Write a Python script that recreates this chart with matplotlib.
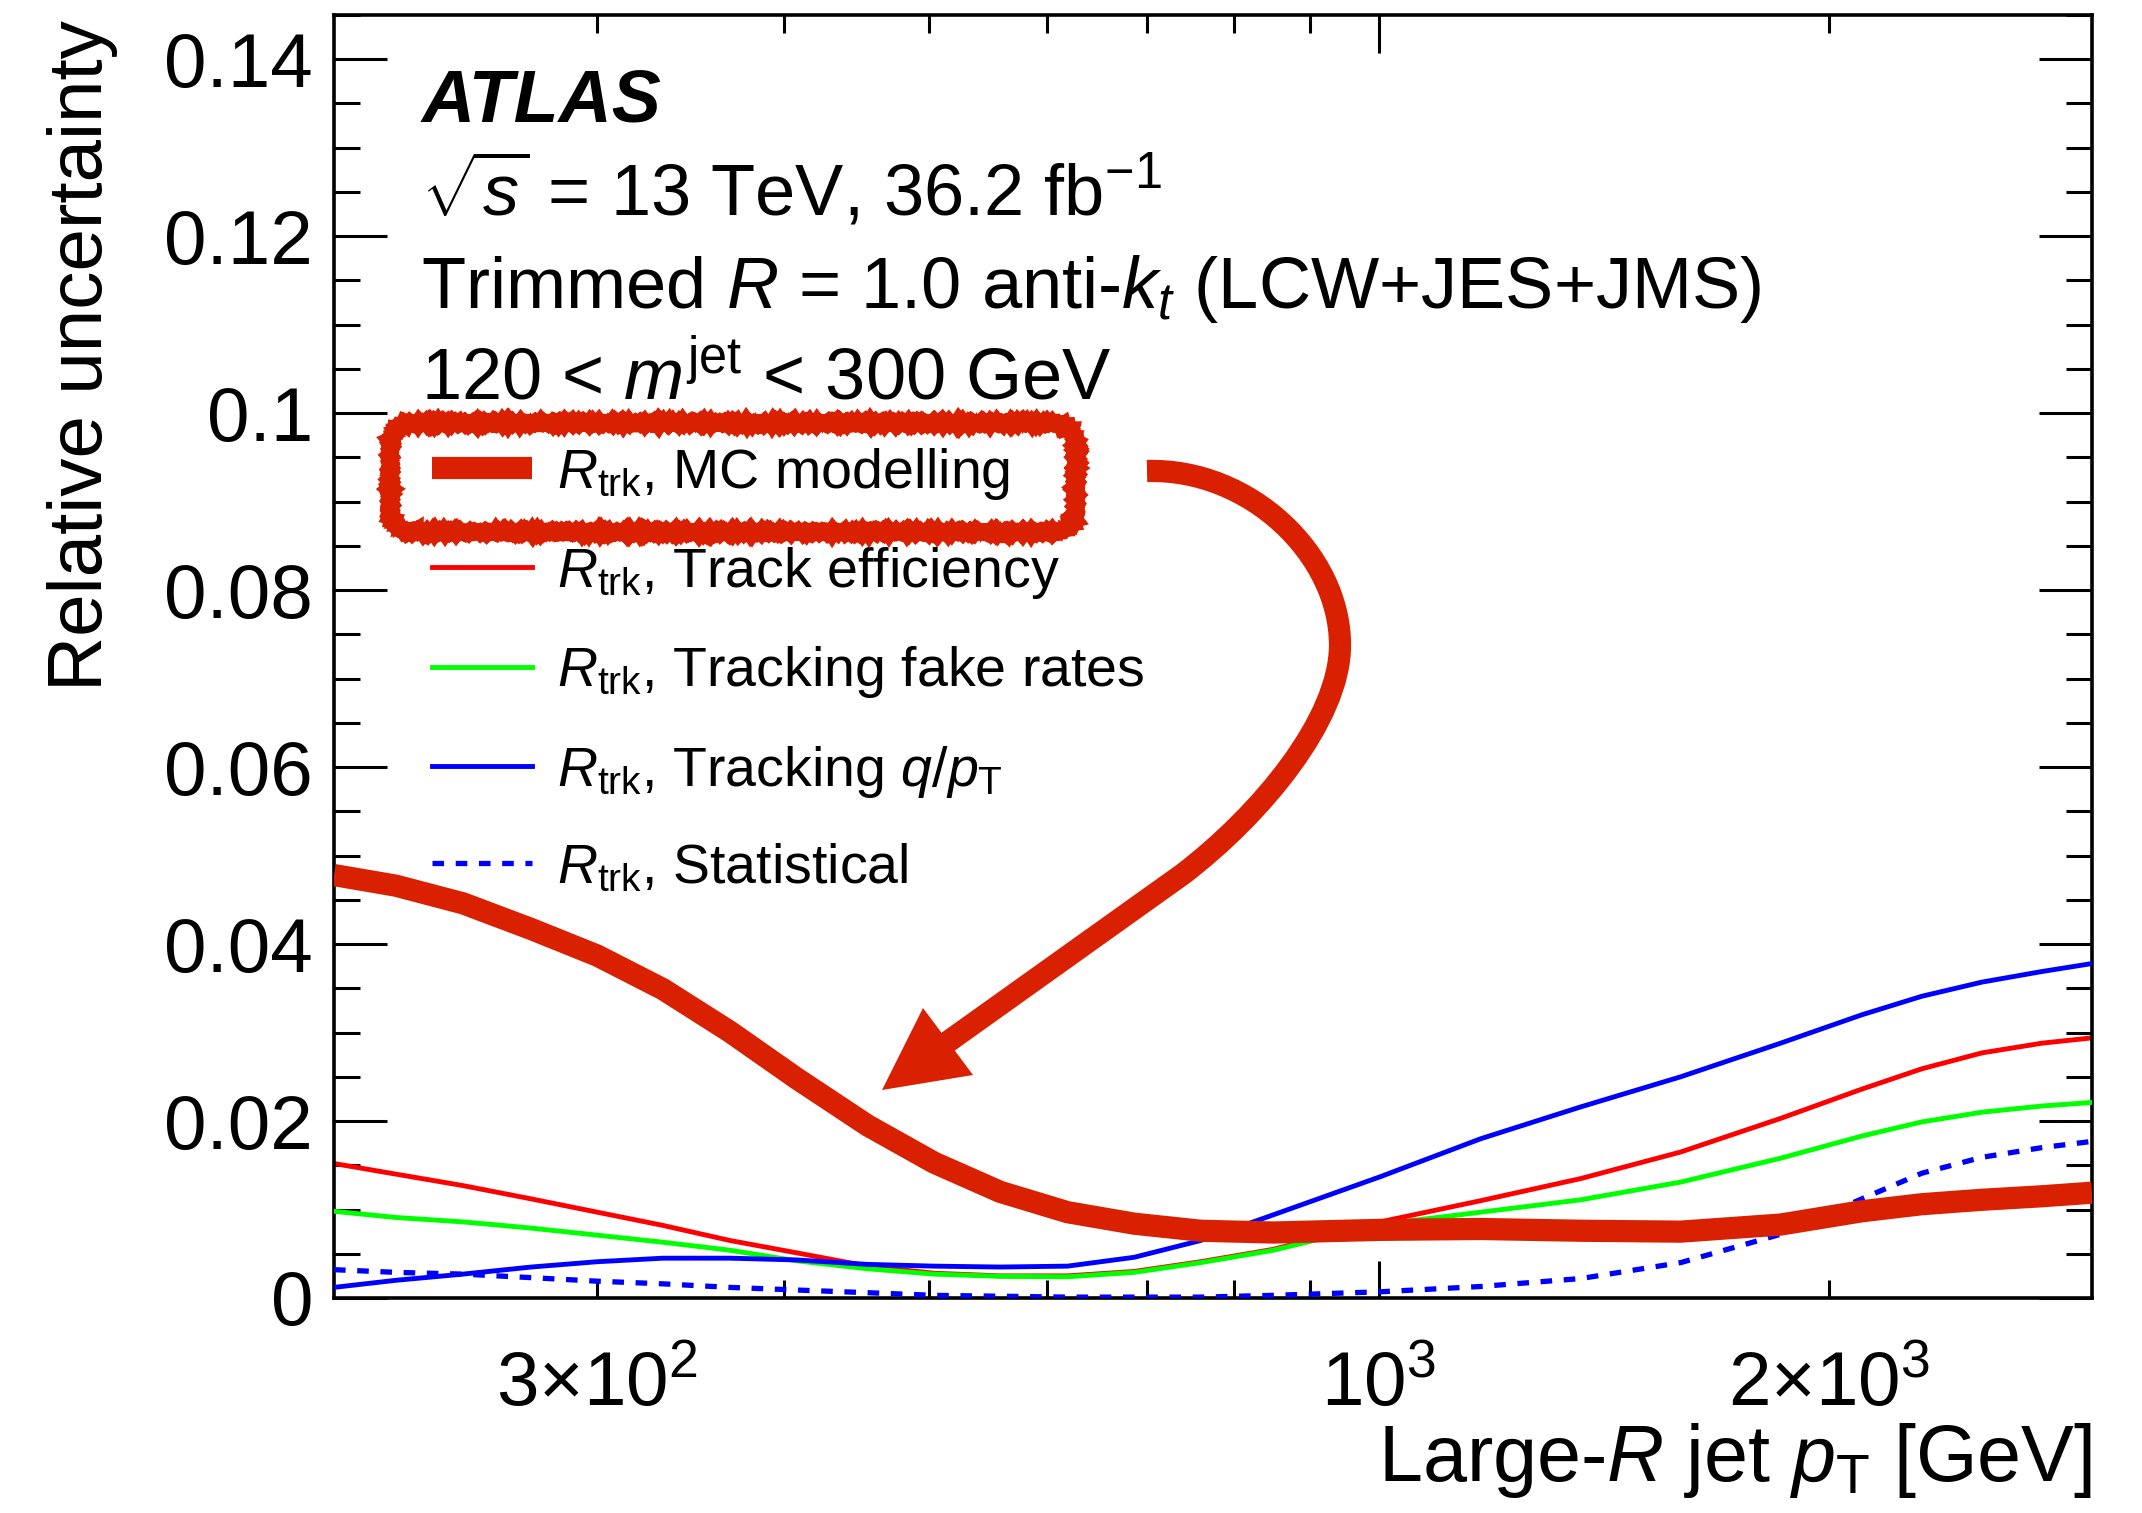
import matplotlib
matplotlib.use('Agg')
import matplotlib.pyplot as plt
from matplotlib.path import Path
from matplotlib.patches import PathPatch, Polygon, FancyBboxPatch
from matplotlib.ticker import FixedLocator, FuncFormatter

plt.rcParams['font.family'] = ['Liberation Sans', 'DejaVu Sans']
plt.rcParams['mathtext.fontset'] = 'custom'
plt.rcParams['mathtext.rm'] = 'Liberation Sans'
plt.rcParams['mathtext.it'] = 'Liberation Sans:italic'
plt.rcParams['mathtext.bf'] = 'Liberation Sans:bold'

# large-R jet pT [GeV]
pt = [200, 220, 244, 271, 300, 332, 368, 408, 455, 504, 558, 619, 686,
      760, 850, 1002, 1170, 1365, 1592, 1857, 2104, 2308, 2532, 2778, 3000]

# relative uncertainties from the R_trk components
mc_modelling = [0.0478, 0.0466, 0.0446, 0.0417, 0.0387, 0.0349, 0.0301, 0.0248,
                0.0195, 0.0153, 0.0120, 0.0097, 0.0084, 0.0076, 0.0074, 0.0077,
                0.0078, 0.0076, 0.0075, 0.0083, 0.0098, 0.0106, 0.0111, 0.0115, 0.0119]
track_eff = [0.0152, 0.0140, 0.0127, 0.0112, 0.0097, 0.0082, 0.0065, 0.0051,
             0.0036, 0.0028, 0.0025, 0.0025, 0.0030, 0.0041, 0.0055, 0.0086,
             0.0110, 0.0135, 0.0165, 0.0203, 0.0236, 0.0259, 0.0277, 0.0288, 0.0294]
fake_rates = [0.0098, 0.0091, 0.0086, 0.0079, 0.0071, 0.0063, 0.0054, 0.0042,
              0.0033, 0.0027, 0.00245, 0.0024, 0.0029, 0.0040, 0.0054, 0.0083,
              0.0097, 0.0111, 0.0131, 0.0158, 0.0183, 0.0199, 0.0210, 0.0217, 0.0221]
q_over_pt = [0.0012, 0.0020, 0.0027, 0.0035, 0.0041, 0.0045, 0.0045, 0.0043,
             0.0038, 0.0036, 0.0035, 0.0036, 0.0046, 0.0065, 0.0094, 0.0137,
             0.0180, 0.0216, 0.0250, 0.0288, 0.0320, 0.0341, 0.0357, 0.0369, 0.0378]
statistical = [0.0032, 0.0029, 0.0027, 0.0023, 0.0019, 0.0016, 0.0012, 0.0009,
               0.0006, 0.0003, 0.0002, 0.0001, 0.0001, 0.0001, 0.0003, 0.0007,
               0.0013, 0.0022, 0.0040, 0.0072, 0.0112, 0.0141, 0.0159, 0.0170, 0.0177]

y_ticks = [0, 0.02, 0.04, 0.06, 0.08, 0.1, 0.12, 0.14]
y_tick_labels = ['0', '0.02', '0.04', '0.06', '0.08', '0.1', '0.12', '0.14']
x_minor = [300, 400, 500, 600, 700, 800, 900, 2000]
x_tick_labels = {300: r'$3{\times}10^{2}$', 1000: r'$10^{3}$', 2000: r'$2{\times}10^{3}$'}

legend_labels = [r'$R_{\mathrm{trk}}$, MC modelling',
                 r'$R_{\mathrm{trk}}$, Track efficiency',
                 r'$R_{\mathrm{trk}}$, Tracking fake rates',
                 r'$R_{\mathrm{trk}}$, Tracking $q/p_{\mathrm{T}}$',
                 r'$R_{\mathrm{trk}}$, Statistical']

DARK_RED = '#d92000'
W, H = 2142, 1513

fig = plt.figure(figsize=(W / 100, H / 100), dpi=100)
ax = fig.add_axes([334 / W, 1 - 1298 / H, 1758 / W, 1283 / H])

kw = dict(solid_joinstyle='round', dash_joinstyle='round')
l_eff, = ax.plot(pt, track_eff, color='#ff0000', lw=3.5, zorder=2, **kw)
l_fake, = ax.plot(pt, fake_rates, color='#00ff00', lw=3.5, zorder=3, **kw)
l_qpt, = ax.plot(pt, q_over_pt, color='#0000ff', lw=3.5, zorder=4, **kw)
l_stat, = ax.plot(pt, statistical, color='#0000ff', lw=3.8, dashes=(2.2, 2.2), zorder=5, **kw)
l_mc, = ax.plot(pt, mc_modelling, color=DARK_RED, lw=16, solid_capstyle='butt',
                zorder=6, **kw)

ax.set_xscale('log')
ax.set_xlim(200, 3000)
ax.set_ylim(0, 0.145)

ax.xaxis.set_major_locator(FixedLocator([1000]))
ax.xaxis.set_minor_locator(FixedLocator(x_minor))
tick_fmt = FuncFormatter(lambda v, pos: x_tick_labels.get(int(round(v)), ''))
ax.xaxis.set_major_formatter(tick_fmt)
ax.xaxis.set_minor_formatter(tick_fmt)

ax.set_yticks(y_ticks)
ax.set_yticklabels(y_tick_labels)
ax.yaxis.set_minor_locator(FixedLocator([i * 0.005 for i in range(30)]))

ax.tick_params(which='both', direction='in', top=True, right=True, width=2.2,
               labelsize=55, color='black')
ax.tick_params(axis='x', which='major', length=27, pad=38)
ax.tick_params(axis='x', which='minor', length=13, pad=38)
ax.tick_params(axis='y', which='major', length=38, pad=15)
ax.tick_params(axis='y', which='minor', length=19)
for sp in ax.spines.values():
    sp.set_linewidth(2.6)

ax.set_xlabel(r'Large-$R$ jet $p_{\mathrm{T}}$ [GeV]', fontsize=57, ha='right', va='baseline')
ax.xaxis.set_label_coords(1.0, -0.1426)
ax.set_ylabel('Relative uncertainty', fontsize=55, ha='right', va='baseline',
              rotation_mode='anchor')
ax.yaxis.set_label_coords(-0.132, 0.996)

# ATLAS label and run info
tx = 0.0495
ax.text(tx, 0.9166, 'ATLAS', transform=ax.transAxes, fontsize=53,
        fontweight='bold', fontstyle='italic', va='baseline')
ax.text(tx, 0.8441, r'$\sqrt{s}$ = 13 TeV, 36.2 fb$^{-1}$', transform=ax.transAxes,
        fontsize=52, va='baseline')
ax.text(tx, 0.7716, r'Trimmed $R$ = 1.0 anti-$k_{t}$ (LCW+JES+JMS)', transform=ax.transAxes,
        fontsize=52, va='baseline')
ax.text(tx, 0.700, r'120 < $m^{\mathrm{jet}}$ < 300 GeV', transform=ax.transAxes,
        fontsize=52, va='baseline')

ax.legend([l_mc, l_eff, l_fake, l_qpt, l_stat], legend_labels,
          loc='upper left', bbox_to_anchor=(0.056, 0.6644), frameon=False,
          fontsize=40, handlelength=1.8, handletextpad=0.45, labelspacing=0.78,
          borderpad=0, borderaxespad=0)


def inch(x, y):
    # pixel position from the top-left corner -> inches from the bottom-left
    return (x / 100, (H - y) / 100)


def marker_box(off, lw, sketch):
    box = FancyBboxPatch((x0 + off, y0 + off), x1 - x0 - 2 * off, y1 - y0 - 2 * off,
                         boxstyle='round,pad=0,rounding_size=0.25',
                         transform=fig.dpi_scale_trans, fill=False,
                         edgecolor=DARK_RED, lw=lw, clip_on=False)
    box.set_sketch_params(*sketch)
    fig.add_artist(box)


# rough marker box around the MC modelling entry
x0, y0 = inch(390, 532)
x1, y1 = inch(1076, 423)
marker_box(0, 12, (0.8, 3, 2))
marker_box(-0.055, 2.2, (1.4, 2, 3))
marker_box(0.055, 2.2, (1.4, 2, 3))

# curved arrow pointing at the MC modelling curve
verts = [inch(1147, 471), inch(1250, 468), inch(1340, 555), inch(1340, 645),
         inch(1340, 720), inch(1260, 815), inch(1183, 874), inch(935, 1051)]
codes = [Path.MOVETO, Path.CURVE4, Path.CURVE4, Path.CURVE4,
         Path.CURVE4, Path.CURVE4, Path.CURVE4, Path.LINETO]
fig.add_artist(PathPatch(Path(verts, codes), transform=fig.dpi_scale_trans,
                         fill=False, edgecolor=DARK_RED, lw=16, capstyle='butt',
                         clip_on=False))
fig.add_artist(Polygon([inch(923, 1008), inch(973, 1075), inch(882, 1090)],
                       closed=True, transform=fig.dpi_scale_trans,
                       facecolor=DARK_RED, edgecolor='none', clip_on=False))

fig.savefig('out.png', dpi=100)
